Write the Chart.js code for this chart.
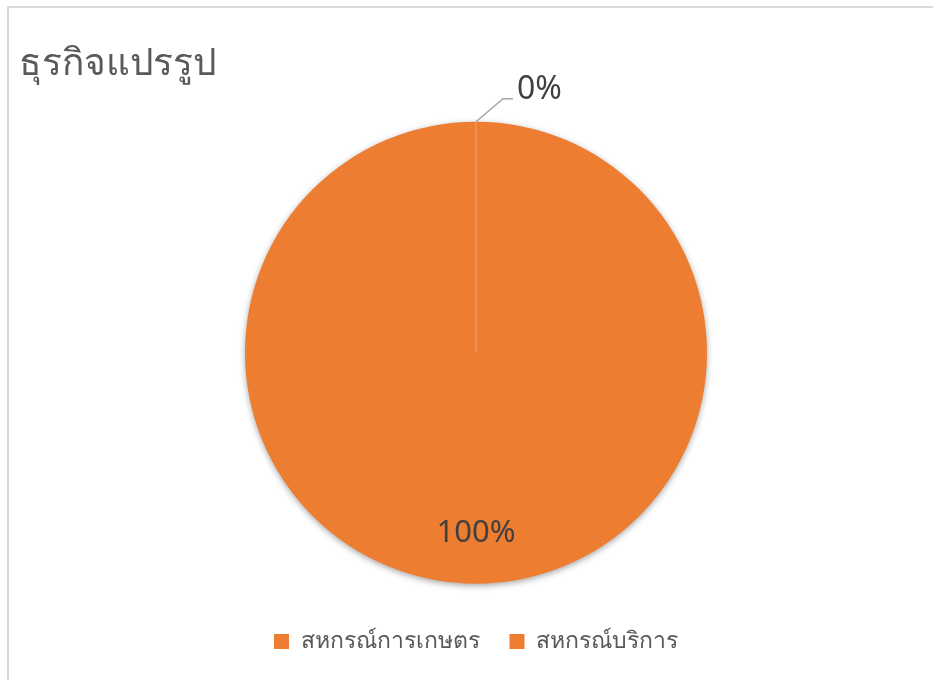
<!DOCTYPE html>
<html>
<head>
<meta charset="utf-8">
<script src="https://cdn.jsdelivr.net/npm/chart.js@4"></script>
<style>
  body { margin: 0; background: #fff; overflow: hidden; }
  #frame { position: absolute; left: 7px; top: 6px; width: 960px; height: 720px; border: 2px solid #d9d9d9; }
  #wrap { position: absolute; left: 0; top: 0; width: 933px; height: 680px; }
</style>
</head>
<body>
<div id="frame"></div>
<div id="wrap"><canvas id="pie"></canvas></div>
<script>
// chart data
const chartTitle = 'ธุรกิจแปรรูป';
const categories = ['สหกรณ์การเกษตร', 'สหกรณ์บริการ'];
const values = [100, 0];
const pctLabels = ['100%', '0%'];
const sliceColors = ['#ED7D31', '#ED7D31'];

const FONT = '"Noto Sans", "Open Sans", sans-serif';

// draws the percent labels, the 0% leader line and the seam line
const labelPlugin = {
  id: 'pctLabels',
  afterDatasetsDraw(chart) {
    const ctx = chart.ctx;
    const arcs = chart.getDatasetMeta(0).data;
    ctx.save();
    arcs.forEach((arc, i) => {
      const { x, y, startAngle, endAngle, outerRadius } = arc.getProps(['x', 'y', 'startAngle', 'endAngle', 'outerRadius'], true);
      const mid = (startAngle + endAngle) / 2;
      if (values[i] > 0) {
        const r = outerRadius * 0.78;
        ctx.fillStyle = '#404040';
        ctx.font = '31px ' + FONT;
        ctx.textAlign = 'center';
        ctx.textBaseline = 'middle';
        ctx.fillText(pctLabels[i], x + Math.cos(mid) * r, y + Math.sin(mid) * r);
      } else {
        // seam from centre to edge
        ctx.strokeStyle = 'rgba(255,255,255,0.3)';
        ctx.lineWidth = 1;
        ctx.beginPath();
        ctx.moveTo(x, y);
        ctx.lineTo(x + Math.cos(mid) * outerRadius, y + Math.sin(mid) * outerRadius);
        ctx.stroke();
        // leader line
        const ex = x + Math.cos(mid) * outerRadius;
        const ey = y + Math.sin(mid) * outerRadius;
        ctx.strokeStyle = '#a6a6a6';
        ctx.lineWidth = 1.5;
        ctx.beginPath();
        ctx.moveTo(ex, ey);
        ctx.lineTo(ex + 27, ey - 23);
        ctx.lineTo(ex + 37, ey - 23);
        ctx.stroke();
        ctx.fillStyle = '#404040';
        ctx.font = '32px ' + FONT;
        ctx.textAlign = 'left';
        ctx.textBaseline = 'middle';
        ctx.fillText(pctLabels[i], ex + 41, ey - 32);
      }
    });
    ctx.restore();
  }
};

// soft shadow under the pie
const shadowPlugin = {
  id: 'pieShadow',
  beforeDatasetDraw(chart) {
    const ctx = chart.ctx;
    ctx.save();
    ctx.shadowColor = 'rgba(0,0,0,0.35)';
    ctx.shadowBlur = 6;
    ctx.shadowOffsetY = 2;
  },
  afterDatasetDraw(chart) {
    chart.ctx.restore();
  }
};

new Chart(document.getElementById('pie'), {
  type: 'pie',
  data: {
    labels: categories,
    datasets: [{
      data: values,
      backgroundColor: sliceColors,
      borderWidth: 0,
      radius: 231
    }]
  },
  options: {
    responsive: true,
    maintainAspectRatio: false,
    animation: false,
    layout: { padding: { left: 19, right: 0, top: 0, bottom: 17 } },
    plugins: {
      title: {
        display: true,
        text: chartTitle,
        align: 'start',
        color: '#595959',
        font: { family: FONT, size: 37, weight: 'normal' },
        padding: { top: 42, bottom: 19 }
      },
      legend: {
        position: 'bottom',
        labels: {
          color: '#595959',
          font: { family: FONT, size: 23 },
          boxWidth: 15,
          boxHeight: 15,
          padding: 30
        }
      },
      tooltip: { enabled: false }
    }
  },
  plugins: [shadowPlugin, labelPlugin]
});
</script>
</body>
</html>
